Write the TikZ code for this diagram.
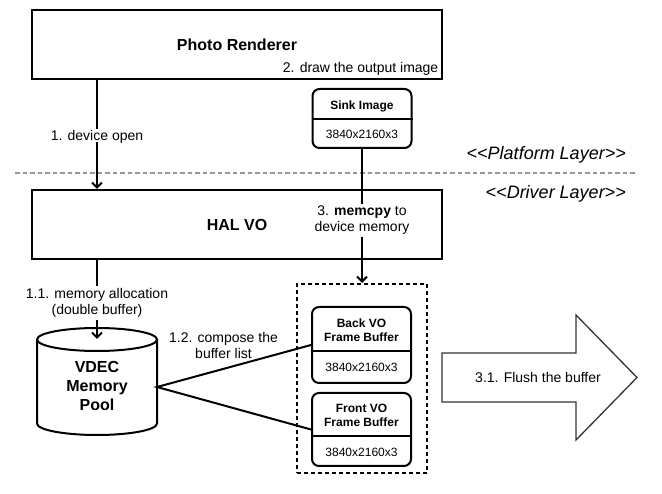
\documentclass[tikz,border=0pt]{standalone}
\usepackage{fontspec}
\setmainfont{Liberation Sans}
\usetikzlibrary{arrows.meta}
\definecolor{sepgray}{RGB}{150,150,150}
\definecolor{arrgray}{RGB}{51,51,51}
\begin{document}
\begin{tikzpicture}[x=1pt,y=-1pt,
  bigbox/.style={draw, line width=2pt, minimum width=410pt, minimum height=69pt, inner sep=0pt,
    font=\fontsize{16}{18}\selectfont\bfseries},
  rbox/.style={draw, line width=2pt, rounded corners=7pt, minimum width=99pt, inner sep=0pt},
  lbl/.style={font=\fontsize{14}{16}\selectfont, align=center, inner sep=1.5pt, text height=10pt, text depth=0pt},
  lbltwo/.style={font=\fontsize{14}{16}\selectfont, align=center, inner sep=2pt},
  smallb/.style={font=\fontsize{12}{14}\selectfont\bfseries, align=center, inner sep=0pt, text height=8.6pt, text depth=0pt},
  smalln/.style={font=\fontsize{12}{14}\selectfont, align=center, inner sep=0pt, text height=8.6pt, text depth=0pt},
  pooltxt/.style={font=\fontsize{16}{19}\selectfont\bfseries, align=center, inner sep=0pt, text height=11.5pt, text depth=0pt},
  layer/.style={font=\fontsize{18}{20}\selectfont\itshape, inner sep=0pt, text height=12.9pt, text depth=0pt},
  conn/.style={line width=2pt},
  arr/.style={conn, -{Straight Barb[length=5pt,width=10pt]}},
  divider/.style={line width=2pt},
]
\useasboundingbox (0,0) rectangle (662,494);
\fill[white] (0,0) rectangle (662,494);

% layer separator
\draw[sepgray, line width=2pt, dash pattern=on 4.5pt off 3pt] (15,173) -- (635,173);
\node[layer, anchor=east] (plat) at (626,153) {<{}<Platform Layer>{}>};
\node[layer, anchor=east] (drv) at (626,192) {<{}<Driver Layer>{}>};

% top box
\node[bigbox] (photo) at (237,44.5) {Photo Renderer};
\node[lbl, anchor=east] (drawlbl) at (440,68) {2. draw the output image};

% sink image
\node[rbox, minimum height=59pt] (sink) at (362,118.5) {};
\draw[divider] (sink.west |- 0,119) -- (sink.east |- 0,119);
\node[smallb] (sinkt) at (362,105) {Sink Image};
\node[smalln] (sinks) at (362,134) {3840x2160x3};

% HAL VO
\node[bigbox] (hal) at (237,224.5) {HAL VO};

% buffer group
\node[draw, line width=2pt, dash pattern=on 4pt off 3pt, minimum width=130pt, minimum height=189pt, inner sep=0pt] (grp) at (362,378.5) {};
\node[rbox, minimum height=76pt] (back) at (361.5,345) {};
\draw[divider] (back.west |- 0,351) -- (back.east |- 0,351);
\node[smallb] (backt) at (361.5,337) {Back VO\\Frame Buffer};
\node[smalln] (backs) at (361.5,367) {3840x2160x3};
\node[rbox, minimum height=73pt] (front) at (361.5,429.5) {};
\draw[divider] (front.west |- 0,436) -- (front.east |- 0,436);
\node[smallb] (frontt) at (361.5,422) {Front VO\\Frame Buffer};
\node[smalln] (fronts) at (361.5,452) {3840x2160x3};

% memory pool cylinder
\draw[line width=2pt, fill=white] (37,339.5) -- (37,423.5)
  arc[start angle=180, end angle=360, x radius=60pt, y radius=11.5pt] -- (157,339.5)
  arc[start angle=0, end angle=180, x radius=60pt, y radius=11.5pt] -- cycle;
\draw[line width=2pt] (37,339.5) arc[start angle=180, end angle=360, x radius=60pt, y radius=11.5pt];
\node[pooltxt] (pool) at (97,405) {VDEC\\Memory\\Pool};
\coordinate (poolE) at (157,387);
\coordinate (poolTop) at (97,339);

% connectors
\coordinate (cx) at (97,0);
\draw[arr] (photo.south -| cx) -- (hal.north -| cx);
\node[lbl, fill=white] (l1) at (97,136) {1. device open};
\draw[arr] (hal.south -| cx) -- (poolTop);
\node[lbltwo, fill=white] (l11) at (97,303) {1.1. memory allocation\\(double buffer)};
\draw[arr] (sink.south) -- (grp.north);
\node[lbltwo, fill=white] (l3) at (362,220.5) {3. \textbf{memcpy} to\\device memory};
\draw[conn] (back.west) -- (poolE) -- (front.west);
\node[lbltwo] (l12) at (223.5,345) {1.2. compose the\\buffer list};

% flush arrow
\draw[line width=1.3pt, draw=arrgray, fill=white] (442,353) -- (576,353) -- (576,315) -- (637,377.5)
  -- (576,440) -- (576,402) -- (442,402) -- cycle;
\node[lbl] (flush) at (538,378) {3.1. Flush the buffer};
\end{tikzpicture}
\end{document}
